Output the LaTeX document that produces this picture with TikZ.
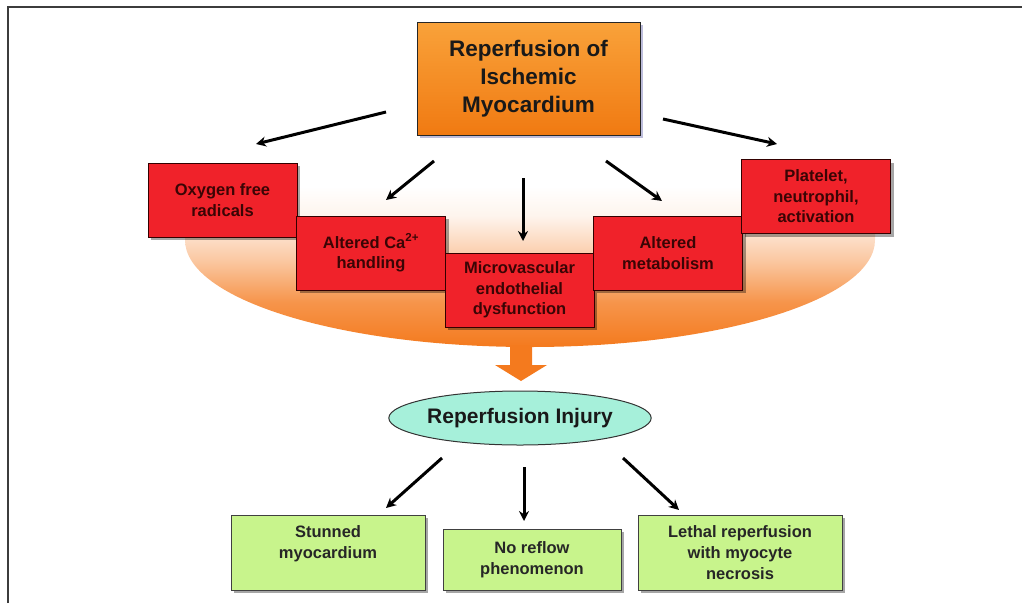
\documentclass[tikz,border=0pt]{standalone}
\usepackage{fontspec}
\setmainfont{Liberation Sans}
\usetikzlibrary{arrows.meta,shadows,shapes.geometric}
\definecolor{boxred}{HTML}{F0222A}
\definecolor{redtext}{HTML}{3A0505}
\definecolor{boxgreen}{HTML}{C8F48C}
\definecolor{aqua}{HTML}{A6F0DA}
\definecolor{orangetop}{HTML}{F9A23A}
\definecolor{orangebot}{HTML}{F07A12}
\definecolor{bgorange}{HTML}{F47A1E}
\definecolor{framegray}{HTML}{3C3C3C}
\pgfdeclareverticalshading{bgshade}{100bp}{color(0bp)=(bgorange); color(25bp)=(bgorange); color(37bp)=(bgorange!80!white); color(48bp)=(bgorange!42!white); color(60bp)=(bgorange!8!white); color(68bp)=(white); color(100bp)=(white)}
\begin{document}
\begin{tikzpicture}[x=1pt,y=-1pt,
  shadowed/.style={drop shadow={shadow xshift=3pt,shadow yshift=-3pt,fill=black,opacity=0.35}},
  redbox/.style={draw=black!80!red,line width=1pt,fill=boxred,shadowed,minimum width=149pt,minimum height=74pt,align=center,inner sep=2pt,text=redtext,font=\bfseries\fontsize{16.5}{20.5}\selectfont},
  greenbox/.style={draw=black!75,line width=0.8pt,fill=boxgreen,shadowed,minimum height=75pt,align=center,inner sep=2pt,text=black!85,font=\bfseries\fontsize{16.5}{21}\selectfont},
  arr/.style={line width=3pt,-{Stealth[length=10pt,width=10pt]}}]
\useasboundingbox (0,0) rectangle (1022,603);
% frame
\draw[framegray,line width=2pt] (8,603) -- (8,7) -- (1022,7);
% background half ellipse
\path[shading=bgshade] (185,160) -- (185,240) arc[start angle=180,end angle=0,x radius=345,y radius=107] -- (875,160) -- cycle;
% top box
\node[draw=black!85,line width=1pt,top color=orangetop,bottom color=orangebot,drop shadow={shadow xshift=3pt,shadow yshift=-3pt,fill=gray!70!blue,opacity=0.4},minimum width=223pt,minimum height=113pt,align=center,text=black!90,font=\bfseries\fontsize{22.5}{28}\selectfont] (top) at (528.5,78.5) {Reperfusion of\\Ischemic\\Myocardium};
% red boxes
\node[redbox] (oxy) at (222.5,200) {Oxygen free\\radicals};
\node[redbox] (ca) at (371,253) {Altered Ca\textsuperscript{2+}\\handling};
\node[redbox] (micro) at (519.5,290) {Microvascular\\endothelial\\dysfunction};
\node[redbox] (meta) at (668,253) {Altered\\metabolism};
\node[redbox] (plat) at (816,196.5) {Platelet,\\neutrophil,\\activation};
% top arrows
\coordinate (a1s) at (386,112); \coordinate (a1e) at (256,144);
\coordinate (a2s) at (434,161); \coordinate (a2e) at (386,200);
\coordinate (a3s) at (523,178); \coordinate (a3e) at (523,241);
\coordinate (a4s) at (606,161); \coordinate (a4e) at (662,201);
\coordinate (a5s) at (663,119); \coordinate (a5e) at (777,144);
\draw[arr] (a1s) -- (a1e);
\draw[arr] (a2s) -- (a2e);
\draw[arr] (a3s) -- (a3e);
\draw[arr] (a4s) -- (a4e);
\draw[arr] (a5s) -- (a5e);
% big orange arrow
\fill[bgorange] (510,345) -- (532,345) -- (532,365) -- (547,365) -- (521,381) -- (495,365) -- (510,365) -- cycle;
% injury ellipse
\node[ellipse,draw=black!80,line width=1pt,fill=aqua,minimum width=240pt,minimum height=54pt,inner sep=0pt,font=\bfseries\fontsize{21}{24}\selectfont,text=black!90] (inj) at (520,418) {Reperfusion Injury};
% green boxes
\node[greenbox,minimum width=194pt] (stun) at (328,552.5) {Stunned\\myocardium\\\mbox{}};
\node[greenbox,minimum width=178pt,minimum height=61pt] (noflow) at (532,559.5) {No reflow\\phenomenon};
\node[greenbox,minimum width=204pt] (leth) at (740,552.5) {Lethal reperfusion\\with myocyte\\necrosis};
% bottom arrows
\coordinate (b1s) at (442,458); \coordinate (b1e) at (386,508);
\coordinate (b2s) at (524,467); \coordinate (b2e) at (524,521);
\coordinate (b3s) at (623,458); \coordinate (b3e) at (679,510);
\draw[arr] (b1s) -- (b1e);
\draw[arr] (b2s) -- (b2e);
\draw[arr] (b3s) -- (b3e);
\end{tikzpicture}
\end{document}
